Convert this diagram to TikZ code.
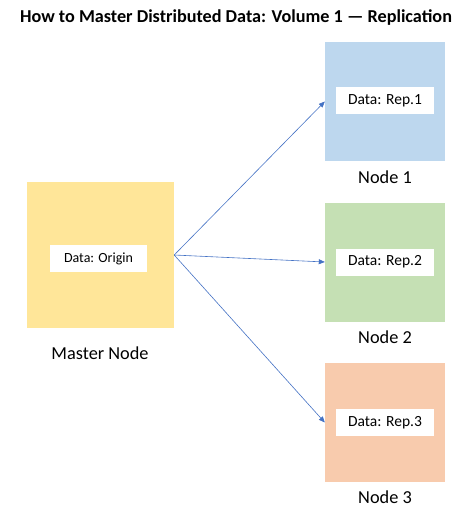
\documentclass[tikz,border=0pt]{standalone}
\usepackage{fontspec}
\setmainfont{Carlito}
\usetikzlibrary{arrows.meta,positioning,shapes}
\definecolor{mastercol}{HTML}{FFE699}
\definecolor{bluecol}{HTML}{BDD7EE}
\definecolor{greencol}{HTML}{C5E0B4}
\definecolor{orangecol}{HTML}{F8CBAD}
\definecolor{arrowcol}{HTML}{4472C4}

\begin{document}
\begin{tikzpicture}[x=1pt,y=-1pt,
  >={Triangle[length=6pt,width=5pt]},
  box/.style={inner sep=0pt,minimum width=120pt,minimum height=119pt},
  databox/.style={fill=white,inner sep=0pt,minimum width=98pt,minimum height=27pt,font=\fontsize{15.5}{18}\selectfont},
  caption/.style={font=\fontsize{18.3}{21}\selectfont},
  link/.style={->,arrowcol,line width=0.6pt}]
\useasboundingbox (0,0) rectangle (474,522);
\node[font=\fontsize{18.2}{21}\selectfont\bfseries] (title) at (236,18) {How to Master Distributed Data: Volume 1 --- Replication};
% master
\node[box,fill=mastercol,minimum width=147pt,minimum height=146pt] (master) at (100.5,255) {};
\node[databox,minimum width=97pt,font=\fontsize{14}{17}\selectfont] (d0) at (98.5,258.5) {Data: Origin};
\node[caption] (l0) at (100,353) {Master Node};
% replicas
\node[box,fill=bluecol] (n1) at (385,101.5) {};
\node[databox] (d1) at (385,100.5) {Data: Rep.1};
\node[caption] (l1) at (385,177) {Node 1};
\node[box,fill=greencol] (n2) at (385,262) {};
\node[databox] (d2) at (385,262) {Data: Rep.2};
\node[caption] (l2) at (385,337) {Node 2};
\node[box,fill=orangecol] (n3) at (385,422.5) {};
\node[databox] (d3) at (385,422.5) {Data: Rep.3};
\node[caption] (l3) at (385,497) {Node 3};
\draw[link] (master.east) -- (n1.west);
\draw[link] (master.east) -- (n2.west);
\draw[link] (master.east) -- (n3.west);
\end{tikzpicture}
\end{document}
